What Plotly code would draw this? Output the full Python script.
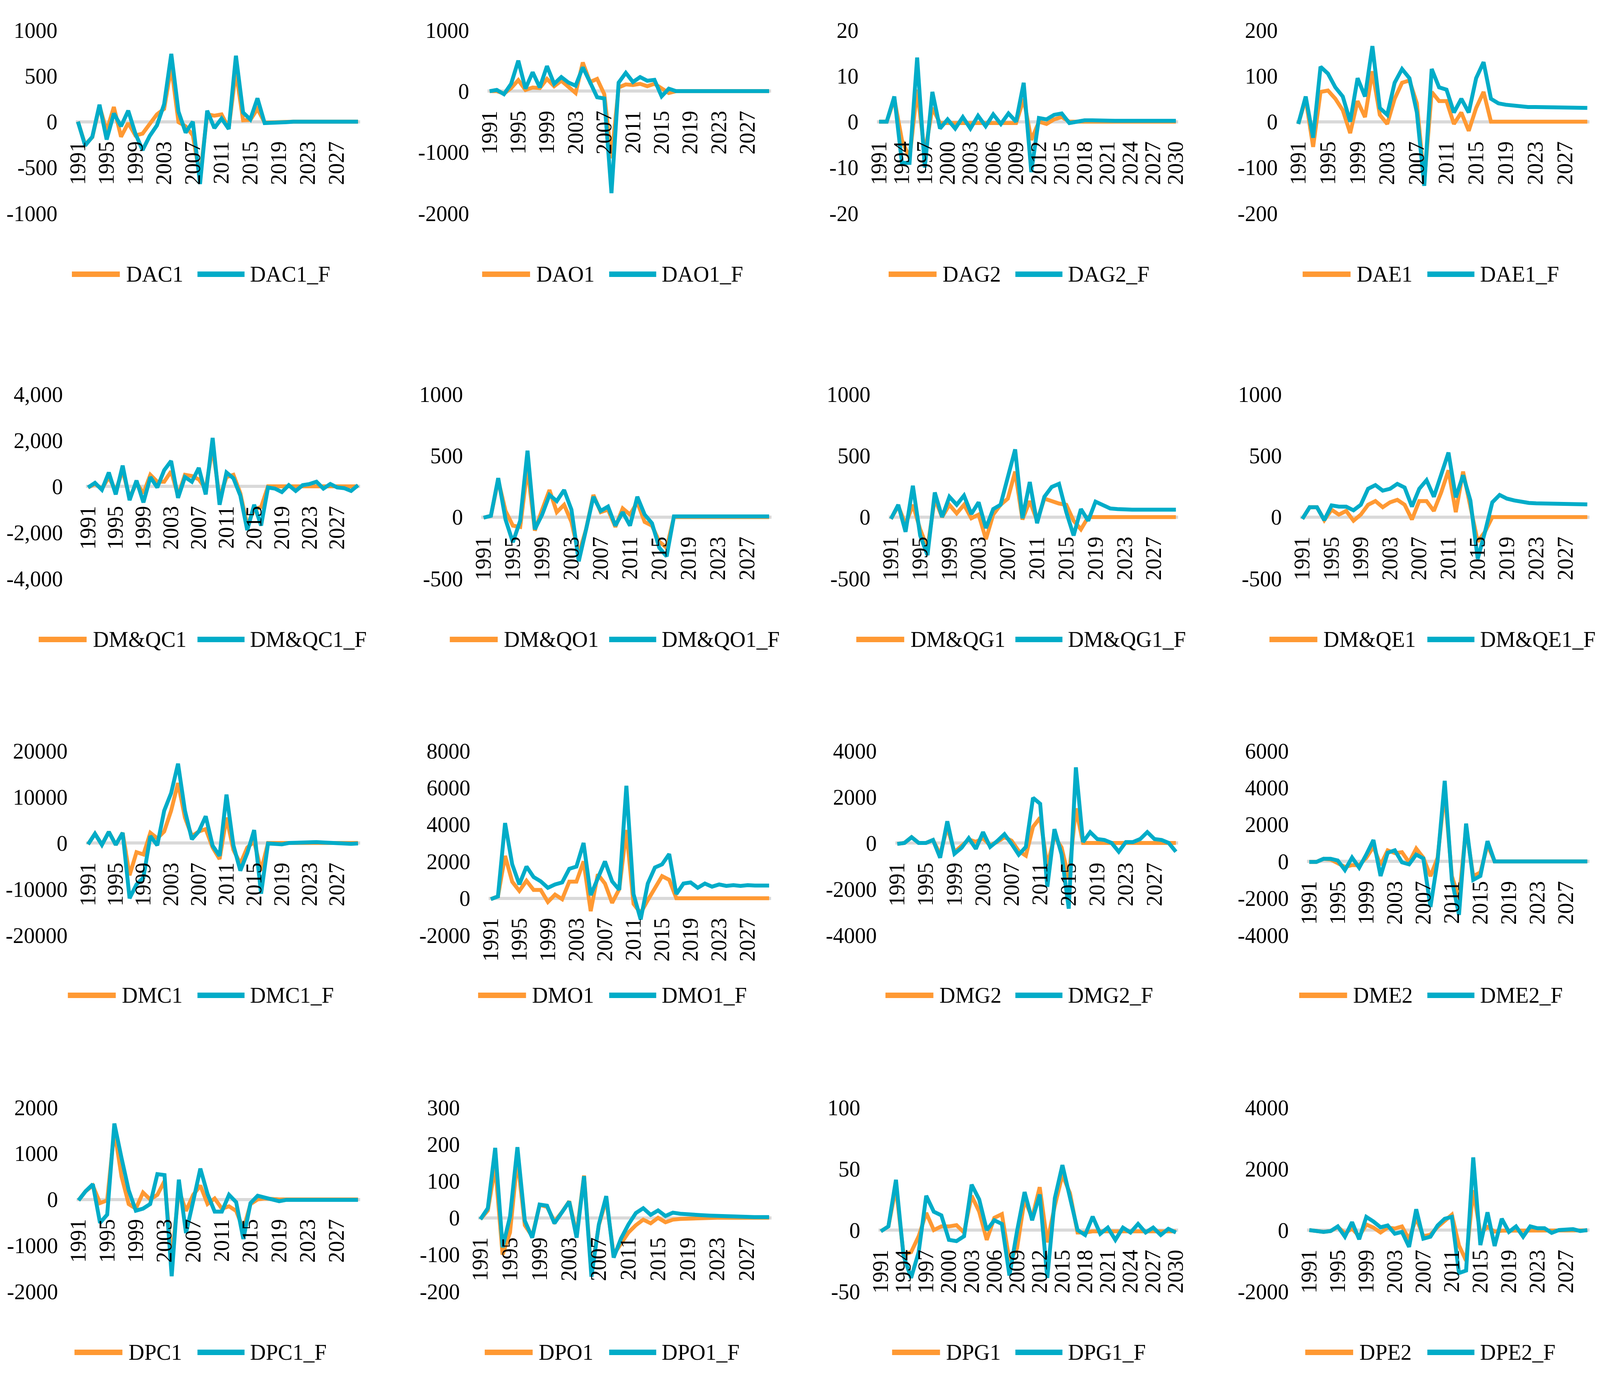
import plotly.graph_objects as go

# ---------------- data ----------------
YEARS = list(range(1991, 2031))

DAC1 = [0,-250,-170,170,-100,160,-165,-15,-150,-130,-25,80,140,600,-5,-50,-150,-600,80,65,
        80,-70,550,15,20,140,-10,-5,-5,0,0,0,0,0,0,0,0,0,0,0]
DAC1_F = [0,-260,-165,185,-195,90,-50,120,-130,-310,-155,-40,190,740,110,-120,0,-680,120,-70,
          35,-80,720,100,25,255,-15,-15,-10,-5,0,5,0,0,0,0,5,0,0,0]

DAO1 = [0,0,-40,50,180,20,60,50,200,80,170,60,-30,470,150,200,-50,-1100,60,110,
        100,120,80,120,40,-30,0,0,0,0,0,0,0,0,0,0,0,0,0,0]
DAO1_F = [0,20,-50,120,500,40,310,60,410,120,230,140,90,390,150,-100,-120,-1670,140,300,
          150,230,170,185,-85,40,0,0,0,0,0,0,0,0,0,0,0,0,0,0]

DAG2 = [0,0,5,-4,-8,7,-7,3,-0.3,-0.3,-0.3,-0.3,-0.3,-0.3,-0.3,-0.3,-0.3,-0.3,-0.3,5,
        -4,0,-0.5,0.5,1,0,0,0,0,0,0,0,0,0,0,0,0,0,0,0]
DAG2_F = [0,0,5.5,-9,-9,14,-10,6.5,-1.5,0.5,-1.5,1,-1.5,1.3,-1,1.6,-0.5,1.8,0,8.5,
          -11,0.8,0.5,1.5,1.8,-0.3,0,0.3,0.3,0.2,0.2,0.2,0.2,0.2,0.2,0.2,0.2,0.2,0.2,0.2]

DAE1 = [-5,50,-55,65,68,50,25,-25,45,10,110,15,-5,50,85,90,40,-130,65,45,
        45,-5,20,-20,30,65,0,0,0,0,0,0,0,0,0,0,0,0,0,0]
DAE1_F = [-5,55,-35,120,105,75,55,0,95,55,165,30,15,85,115,95,20,-140,115,75,
          70,20,50,20,95,130,50,40,37,35,33,32,32,32,32,31,31,31,31,30]

DMQC1 = [-50,100,-100,400,-200,700,-500,150,-300,500,200,200,650,-400,500,450,300,-100,1700,-500,
         400,500,-300,-1700,-1000,-900,0,0,0,0,0,0,0,0,0,0,0,0,0,0]
DMQC1_F = [-50,150,-150,600,-350,900,-600,250,-700,400,-50,700,1100,-500,400,200,800,-350,2100,-800,
           600,350,-400,-1900,-800,-1700,-50,-100,-250,50,-200,50,100,200,-100,100,-50,-80,-200,50]

DMQO1 = [-5,10,300,50,-70,-80,400,-110,60,220,40,100,-40,-300,-100,180,40,60,-80,70,
         20,120,-40,-70,-200,-250,0,0,0,0,0,0,0,0,0,0,0,0,0,0]
DMQO1_F = [-5,10,317,-20,-205,-30,540,-100,20,180,130,220,60,-360,-100,165,50,85,-70,40,
           -70,165,20,-50,-250,-320,5,5,5,5,5,5,5,5,5,5,5,5,5,5]

DMQG1 = [-15,90,-60,100,-100,-250,150,0,100,30,100,-10,20,-180,20,100,150,370,-20,130,
         -30,150,130,110,100,-30,-100,0,0,0,0,0,0,0,0,0,0,0,0,0]
DMQG1_F = [-15,100,-120,255,-150,-310,200,0,165,100,175,25,120,-90,65,100,325,550,-10,285,
           -50,165,245,270,40,-150,65,-30,125,95,70,65,60,60,60,60,60,60,60,60]

DMQE1 = [-15,80,80,-25,60,20,50,-30,20,100,130,80,120,140,100,-20,130,130,50,200,
         380,40,370,100,-200,-120,0,0,0,0,0,0,0,0,0,0,0,0,0,0]
DMQE1_F = [-15,80,80,-25,95,85,85,55,100,230,260,215,230,270,240,85,230,300,165,335,
           525,160,340,135,-340,-120,120,180,150,135,122,115,112,110,108,107,106,105,104,103]

DMC1 = [-300,2000,-400,2400,-400,2200,-7000,-2000,-2500,2200,1000,2500,7000,13000,5500,1500,2500,3000,-1000,-3500,
        5500,-1500,-4500,-1000,300,-6000,0,0,0,0,0,0,0,0,0,0,0,0,0,0]
DMC1_F = [-300,2000,-400,2400,-400,2200,-12000,-9000,-7500,1500,-500,7000,10800,17200,7000,800,2500,5800,-600,-2800,
          10500,-500,-6000,-2200,2800,-11000,-100,-200,-300,0,100,200,200,200,100,0,-100,-300,-200,-100]

DMO1 = [-50,100,2300,900,400,950,450,450,-200,200,-50,900,900,2000,-700,1300,800,-250,500,3700,
        -300,-800,-100,600,1200,1000,0,0,0,0,0,0,0,0,0,0,0,0,0,0]
DMO1_F = [-50,100,4080,1840,750,1720,1150,920,570,750,860,1600,1720,3000,170,1150,2000,920,460,6100,
          230,-1150,800,1670,1840,2400,230,800,860,570,800,630,750,670,710,670,710,690,690,690]

DMG2 = [-40,0,250,0,0,130,-500,700,-400,-100,150,50,200,-100,50,250,100,-350,-550,700,
        1100,-1000,300,-200,-1500,1500,0,0,0,0,0,0,0,0,0,0,0,0,0,0]
DMG2_F = [-40,0,250,0,0,130,-640,940,-470,-210,210,-255,470,-170,85,380,-40,-510,-170,1960,
          1700,-1900,600,-500,-2850,3280,40,470,170,130,0,-380,40,40,170,470,170,130,0,-380]

DME2 = [-30,-30,140,100,-100,-300,-200,-200,200,800,-200,600,450,500,-50,700,200,-800,200,3800,
        -800,-2000,1800,-800,-600,900,0,0,0,0,0,0,0,0,0,0,0,0,0,0]
DME2_F = [-30,-30,140,140,50,-470,210,-340,370,1160,-790,470,600,-50,-160,370,160,-2470,50,4370,
          -1000,-2900,2050,-1000,-790,1100,0,0,0,0,0,0,0,0,0,0,0,0,0,0]

DPC1 = [-20,180,300,-80,-20,1500,500,-100,-200,150,0,100,400,-1300,200,-250,100,300,-100,20,
        -200,-150,-250,-650,-100,0,20,0,0,0,0,0,0,0,0,0,0,0,0,0]
DPC1_F = [-20,180,330,-510,-330,1650,900,200,-245,-200,-100,550,530,-1670,430,-730,-40,670,120,-265,
          -265,100,-60,-860,-80,80,40,0,-40,-10,-10,-10,-10,-10,-10,-10,-10,-10,-10,-10]

DPO1 = [-4,20,140,-100,-40,160,-20,-50,35,30,-10,15,45,-45,115,-150,-20,50,-100,-70,
        -40,-20,-5,-15,0,-12,-5,-3,-2,-1,0,0,0,0,0,0,0,0,0,0]
DPO1_F = [-4,26,190,-80,3,192,-8,-54,36,33,-15,13,44,-54,113,-160,-18,59,-108,-56,
          -18,13,26,8,20,5,14,11,9,8,7,6,5,4,4,3,3,2,2,2]

DPG1 = [-1,3,35,-20,-18,-5,14,0,3,3,4,-2,28,15,-8,10,13,-25,-15,25,
        10,35,-10,20,45,30,-2,-2,-1,-1,-1,-1,-1,-1,-1,-1,-1,-1,-1,-1]
DPG1_F = [-1,3,41,-21,-39,-18,28,15,12,-8,-9,-5,37,25,0,8,5,-37,-1,31,
          8,29,-39,26,53,26,0,-4,11,-3,2,-8,2,-2,5,-2,2,-4,1,-2]

DPE2 = [0,-30,-60,-30,100,-100,50,-200,180,80,-80,80,50,120,-300,400,-200,-150,100,300,
        500,-500,-1000,1300,-100,100,-50,-20,-20,-20,-20,-20,-10,-10,-10,-10,-10,-10,-10,-10]
DPE2_F = [0,-30,-60,-30,120,-215,260,-300,430,280,90,150,-120,-60,-550,680,-280,-215,150,370,
          430,-1400,-1320,2370,-490,580,-520,370,-60,120,-215,120,60,60,-90,0,30,30,-30,0]

# (label, values, label_F, values_F, y range, y step, year step, thousands separator)
PANELS = [
    ("DAC1", DAC1, "DAC1_F", DAC1_F, [-1000, 1000], 500, 4, False),
    ("DAO1", DAO1, "DAO1_F", DAO1_F, [-2000, 1000], 1000, 4, False),
    ("DAG2", DAG2, "DAG2_F", DAG2_F, [-20, 20], 10, 3, False),
    ("DAE1", DAE1, "DAE1_F", DAE1_F, [-200, 200], 100, 4, False),
    ("DM&QC1", DMQC1, "DM&QC1_F", DMQC1_F, [-4000, 4000], 2000, 4, True),
    ("DM&QO1", DMQO1, "DM&QO1_F", DMQO1_F, [-500, 1000], 500, 4, False),
    ("DM&QG1", DMQG1, "DM&QG1_F", DMQG1_F, [-500, 1000], 500, 4, False),
    ("DM&QE1", DMQE1, "DM&QE1_F", DMQE1_F, [-500, 1000], 500, 4, False),
    ("DMC1", DMC1, "DMC1_F", DMC1_F, [-20000, 20000], 10000, 4, False),
    ("DMO1", DMO1, "DMO1_F", DMO1_F, [-2000, 8000], 2000, 4, False),
    ("DMG2", DMG2, "DMG2_F", DMG2_F, [-4000, 4000], 2000, 4, False),
    ("DME2", DME2, "DME2_F", DME2_F, [-4000, 6000], 2000, 4, False),
    ("DPC1", DPC1, "DPC1_F", DPC1_F, [-2000, 2000], 1000, 4, False),
    ("DPO1", DPO1, "DPO1_F", DPO1_F, [-200, 300], 100, 4, False),
    ("DPG1", DPG1, "DPG1_F", DPG1_F, [-50, 100], 50, 3, False),
    ("DPE2", DPE2, "DPE2_F", DPE2_F, [-2000, 4000], 2000, 4, False),
]

# ---------------- layout ----------------
# positions are measured on the 5542 x 3520 reference and used as paper fractions
RW, RH = 5542, 3520
FIG_W, FIG_H = 4096, 3520          # browser viewport actually available
ORANGE = "#FF9933"
TEAL = "#00ACC8"
ZERO_GRAY = "#D9D9D9"
FONT = "Liberation Serif"
FS = 56

ROW_TOP = [77, 1009, 1922, 2835]
ROW_BOT = [546, 1481, 2394, 3306]
X_START = [270, 1696, 3045, 4497, 305, 1675, 3086, 4511,
           305, 1700, 3108, 4535, 272, 1664, 3051, 4535]
X_END = [1240, 2664, 4073, 5498]
LEG_Y = [702, 1637, 2548, 3462]
LEG_TEXT1 = [435, 1856, 3264, 4698, 320, 1744, 3152, 4583,
             421, 1842, 3253, 4686, 444, 1865, 3276, 4707]
LEG_TEXT2 = [865, 2291, 3698, 5125]
PAD = 0.3

fig = go.Figure()
shapes = []
annotations = []

for k, (n1, v1, n2, v2, yr, ystep, xstep, comma) in enumerate(PANELS):
    r, c = divmod(k, 4)
    sfx = "" if k == 0 else str(k + 1)
    xa, ya = "x" + sfx, "y" + sfx

    fig.add_trace(go.Scatter(x=YEARS, y=v1, name=n1, mode="lines",
                             line=dict(color=ORANGE, width=10),
                             xaxis=xa, yaxis=ya, showlegend=False))
    fig.add_trace(go.Scatter(x=YEARS, y=v2, name=n2, mode="lines",
                             line=dict(color=TEAL, width=10),
                             xaxis=xa, yaxis=ya, showlegend=False))

    step = (X_END[c] - X_START[k]) / 39.0
    x0 = (X_START[k] - PAD * step) / RW
    x1 = (X_END[c] + PAD * step) / RW
    y0 = 1 - ROW_BOT[r] / RH
    y1 = 1 - ROW_TOP[r] / RH
    zero_frac = y0 + (0 - yr[0]) / (yr[1] - yr[0]) * (y1 - y0)

    yvals = list(range(yr[0], yr[1] + 1, ystep))
    ytext = [(f"{v:,}" if comma else str(v)) for v in yvals]
    xvals = YEARS[::xstep]

    fig.layout["xaxis" + sfx] = dict(
        domain=[x0, x1], range=[YEARS[0] - PAD, YEARS[-1] + PAD],
        anchor="free", position=zero_frac,
        tickmode="array", tickvals=xvals, ticktext=[str(v) for v in xvals],
        tickangle=-90, ticks="", showline=False, showgrid=False, zeroline=False,
        ticklabelstandoff=38, tickfont=dict(family=FONT, size=FS, color="black"),
        automargin=False, fixedrange=True)
    fig.layout["yaxis" + sfx] = dict(
        domain=[y0, y1], range=yr, anchor=xa,
        tickmode="array", tickvals=yvals, ticktext=ytext,
        ticks="", showline=False, showgrid=False,
        zeroline=True, zerolinecolor=ZERO_GRAY, zerolinewidth=8,
        ticklabelstandoff=(58 if comma else 46),
        tickfont=dict(family=FONT, size=FS, color="black"),
        automargin=False, fixedrange=True)

    # legend (drawn per panel, Excel style)
    ly = 1 - LEG_Y[r] / RH
    t1 = LEG_TEXT1[k]
    t2 = LEG_TEXT2[c]
    shapes.append(dict(type="line", xref="paper", yref="paper",
                       x0=(t1 - 186) / RW, x1=(t1 - 20) / RW, y0=ly, y1=ly,
                       line=dict(color=ORANGE, width=14)))
    shapes.append(dict(type="line", xref="paper", yref="paper",
                       x0=(t2 - 181) / RW, x1=(t2 - 18) / RW, y0=ly, y1=ly,
                       line=dict(color=TEAL, width=14)))
    annotations.append(dict(xref="paper", yref="paper", x=t1 / RW, y=ly,
                            xanchor="left", yanchor="middle", text=n1,
                            showarrow=False, borderpad=0,
                            font=dict(family=FONT, size=FS, color="black")))
    annotations.append(dict(xref="paper", yref="paper", x=t2 / RW, y=ly,
                            xanchor="left", yanchor="middle", text=n2,
                            showarrow=False, borderpad=0,
                            font=dict(family=FONT, size=FS, color="black")))

fig.update_layout(
    width=FIG_W, height=FIG_H,
    margin=dict(l=0, r=0, t=0, b=0),
    paper_bgcolor="white", plot_bgcolor="white",
    font=dict(family=FONT, size=FS, color="black"),
    showlegend=False,
    shapes=shapes, annotations=annotations,
)

# make the figure fill exactly the viewport the browser provides
FIT_JS = """
(function () {
  var gd = document.getElementById('{plot_id}');
  document.documentElement.style.margin = '0';
  document.documentElement.style.overflow = 'hidden';
  document.body.style.margin = '0';
  document.body.style.overflow = 'hidden';
  var w = window.innerWidth, h = window.innerHeight;
  if (Math.abs(w - gd.layout.width) > 1 || Math.abs(h - gd.layout.height) > 1) {
    return Plotly.relayout(gd, {width: w, height: h});
  }
})();
"""

fig.write_html("out.html", post_script=FIT_JS, config={"displayModeBar": False})
